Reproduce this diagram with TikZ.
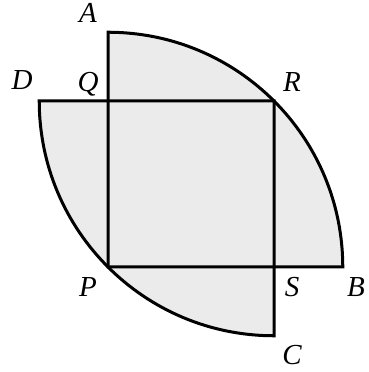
\documentclass[tikz,border=0pt]{standalone}
\usepackage{fontspec}
\setmainfont{Liberation Serif}
\begin{document}
\begin{tikzpicture}[x=1pt,y=1pt,
  edge/.style={line width=3pt, line join=miter, line cap=butt},
  shade/.style={fill=black!8},
  lbl/.style={anchor=base, inner sep=0pt, font=\fontsize{29}{29}\selectfont\itshape}]
\useasboundingbox (0,0) rectangle (368,372);
\def\r{234.76}
\coordinate (P) at (108,105);
\coordinate (Q) at (108,271);
\coordinate (R) at (274,271);
\coordinate (S) at (274,105);
\coordinate (A) at (108,339.76);
\coordinate (B) at (342.76,105);
\coordinate (D) at (39.24,271);
\coordinate (C) at (274,36.24);
% shading
\fill[shade] (P) -- (A) arc[start angle=90, end angle=0, radius=\r] -- cycle;
\fill[shade] (R) -- (D) arc[start angle=180, end angle=270, radius=\r] -- cycle;
% lines
\draw[edge] (A) arc[start angle=90, end angle=0, radius=\r] -- (P) -- cycle;
\draw[edge] (D) arc[start angle=180, end angle=270, radius=\r] -- (R) -- cycle;
% labels
\node[lbl] (lA) at (88,349) {A};
\node[lbl] (lD) at (22,282) {D};
\node[lbl] (lQ) at (88,280) {Q};
\node[lbl] (lR) at (292,280) {R};
\node[lbl] (lP) at (88,75) {P};
\node[lbl] (lS) at (292,75) {S};
\node[lbl] (lB) at (356,75) {B};
\node[lbl] (lC) at (292,7) {C};
\end{tikzpicture}
\end{document}
